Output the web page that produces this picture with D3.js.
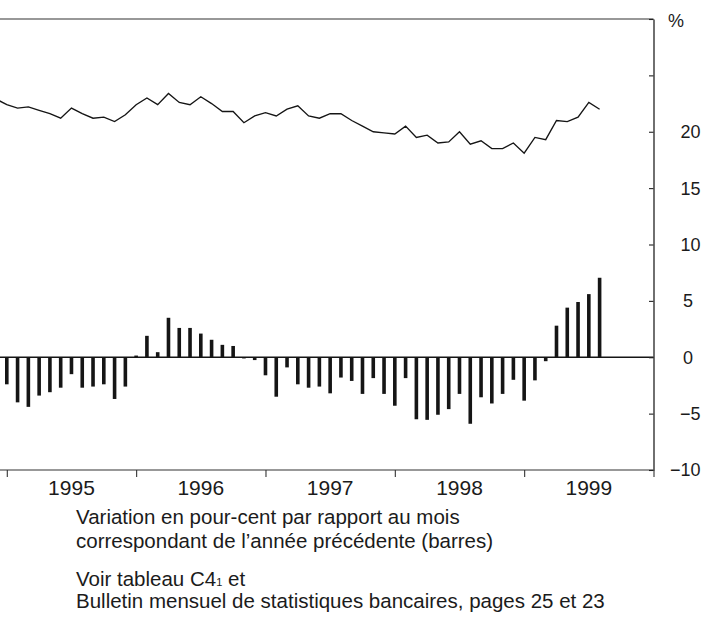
<!DOCTYPE html>
<html>
<head>
<meta charset="utf-8">
<script src="https://cdn.jsdelivr.net/npm/d3@7"></script>
<style>
  body { margin: 0; background: #fff; }
  svg { display: block; }
  text { font-family: "Liberation Sans", Arial, Helvetica, sans-serif; fill: #1b1b1b; }
</style>
</head>
<body>
<svg id="chart" width="703" height="625"></svg>
<script>
// Calendar years shown on the time axis (monthly data, Jan 1995 = month 0)
const years = [1995, 1996, 1997, 1998, 1999];

// Year-on-year change in per cent, Jan 1995 – Aug 1999 (bars)
const changePct = [
  -2.4, -4.0, -4.4, -3.4, -3.1, -2.7, -1.5, -2.7, -2.6, -2.4, -3.7, -2.6,   // 1995
   0.15, 1.9, 0.45, 3.5, 2.6, 2.6, 2.1, 1.55, 1.1, 1.0, -0.05, -0.25,      // 1996
  -1.6, -3.5, -0.9, -2.4, -2.7, -2.6, -3.2, -1.8, -2.1, -3.25, -1.85, -3.25, // 1997
  -4.3, -1.85, -5.5, -5.55, -5.1, -4.6, -3.25, -5.9, -3.55, -4.1, -3.25, -2.0, // 1998
  -3.85, -2.05, -0.35, 2.8, 4.4, 4.9, 5.6, 7.05                              // 1999
];

// Level in per cent, Dec 1994 – Aug 1999 (line)
const levelPct = [
  22.9,                                                                     // Dec 1994
  22.4, 22.1, 22.2, 21.9, 21.6, 21.2, 22.1, 21.6, 21.2, 21.3, 20.9, 21.5,   // 1995
  22.4, 23.0, 22.4, 23.4, 22.6, 22.4, 23.1, 22.5, 21.8, 21.8, 20.8, 21.4,   // 1996
  21.7, 21.4, 22.0, 22.3, 21.4, 21.2, 21.6, 21.6, 21.0, 20.5, 20.0, 19.9,   // 1997
  19.8, 20.5, 19.5, 19.7, 19.0, 19.1, 20.0, 18.9, 19.2, 18.5, 18.5, 19.0,   // 1998
  18.1, 19.5, 19.3, 21.0, 20.9, 21.3, 22.6, 22.0                            // 1999
];
const levelStart = -1; // month index of the first line point

// Value axis (right side)
const yTicks = [-10, -5, 0, 5, 10, 15, 20, 25, 30];
const yLabels = [-10, -5, 0, 5, 10, 15, 20];
const unitLabel = "%";

// Notes under the chart
const noteLines = [
  "Variation en pour-cent par rapport au mois",
  "correspondant de l\u2019ann\u00e9e pr\u00e9c\u00e9dente (barres)"
];
const sourceLines = [
  ["Voir tableau C4", "1", " et"],
  ["Bulletin mensuel de statistiques bancaires, pages 25 et 23"]
];

const svg = d3.select("#chart");
const ink = "#151515";

const x = d3.scaleLinear().domain([0, 60]).range([6.8, 653.5]);
const y = d3.scaleLinear().domain([-10, 30]).range([470, 19]);
const left = 0;
const xEnd = x(60);

// Frame: top rule, zero line, bottom axis line
svg.append("line")
  .attr("x1", left).attr("x2", xEnd)
  .attr("y1", y(30)).attr("y2", y(30))
  .attr("stroke", "#333").attr("stroke-width", 1.1);

svg.append("line")
  .attr("x1", left).attr("x2", xEnd)
  .attr("y1", y(0)).attr("y2", y(0))
  .attr("stroke", ink).attr("stroke-width", 1.3);

// Bottom time axis: ticks at year boundaries pointing down
const xAxis = d3.axisBottom(x)
  .tickValues(d3.range(0, 61, 12))
  .tickSizeInner(7)
  .tickSizeOuter(0)
  .tickFormat("");
const gx = svg.append("g")
  .attr("transform", `translate(0,${y(-10)})`)
  .call(xAxis);
gx.select(".domain").remove();
gx.selectAll(".tick line").attr("stroke", "#333").attr("stroke-width", 1.1);
svg.append("line")
  .attr("x1", left).attr("x2", xEnd)
  .attr("y1", y(-10)).attr("y2", y(-10))
  .attr("stroke", "#333").attr("stroke-width", 1.2);

// Year labels centred within each year
svg.append("g").selectAll("text")
  .data(years)
  .join("text")
  .attr("x", (d, i) => x(i * 12 + 6))
  .attr("y", 495)
  .attr("text-anchor", "middle")
  .attr("font-size", 21)
  .text(d => d);

// Right value axis with inward ticks
const yAxis = d3.axisRight(y)
  .tickValues(yTicks)
  .tickSizeInner(-4.5)
  .tickSizeOuter(0)
  .tickFormat("");
const gy = svg.append("g")
  .attr("transform", `translate(${xEnd},0)`)
  .call(yAxis);
gy.select(".domain").attr("stroke", "#222").attr("stroke-width", 1.3);
gy.selectAll(".tick line").attr("stroke", "#222").attr("stroke-width", 1.1);

const fmt = d => d < 0 ? "\u2212" + Math.abs(d) : String(d);
svg.append("g").selectAll("text")
  .data(yLabels)
  .join("text")
  .attr("x", d => fmt(d).length > 1 ? 700.5 : 683)
  .attr("y", d => y(d))
  .attr("dy", "0.36em")
  .attr("text-anchor", d => fmt(d).length > 1 ? "end" : "start")
  .attr("font-size", 18)
  .text(fmt);

svg.append("text")
  .attr("x", 668)
  .attr("y", y(30))
  .attr("dy", "0.45em")
  .attr("font-size", 18)
  .text(unitLabel);

// Bars: year-on-year change
const barW = 3.6;
svg.append("g").selectAll("rect")
  .data(changePct)
  .join("rect")
  .attr("x", (d, i) => x(i) - barW / 2)
  .attr("width", barW)
  .attr("y", d => Math.min(y(d), y(0)))
  .attr("height", d => Math.max(Math.abs(y(d) - y(0)), 1.2))
  .attr("fill", ink);

// Line: level
const line = d3.line()
  .x((d, i) => x(i + levelStart))
  .y(d => y(d));
svg.append("path")
  .datum(levelPct)
  .attr("d", line)
  .attr("fill", "none")
  .attr("stroke", ink)
  .attr("stroke-width", 1.35)
  .attr("stroke-linejoin", "miter");

// Notes
const notes = svg.append("g").attr("font-size", 20.5);
notes.selectAll("text.note")
  .data(noteLines)
  .join("text")
  .attr("class", "note")
  .attr("x", 76)
  .attr("y", (d, i) => 524 + i * 23.5)
  .text(d => d);

sourceLines.forEach((parts, i) => {
  const t = notes.append("text")
    .attr("x", 76)
    .attr("y", 586 + i * 22);
  t.append("tspan").text(parts[0]);
  if (parts.length > 1) {
    t.append("tspan")
      .attr("font-size", 11)
      .text(parts[1]);
    t.append("tspan").text(parts[2]);
  }
});
</script>
</body>
</html>
